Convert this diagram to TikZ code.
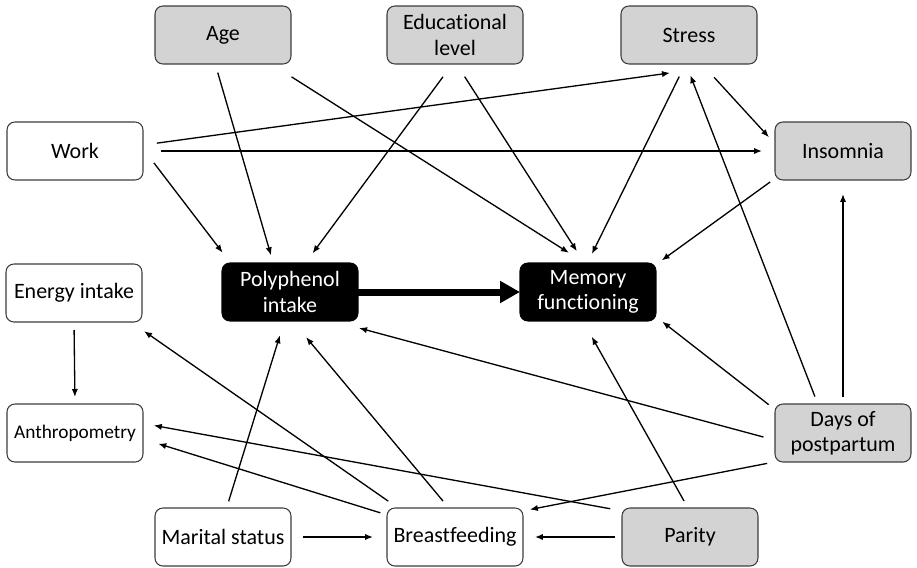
\documentclass[tikz,border=0pt]{standalone}
\usepackage{fontspec}
\setmainfont[Ligatures={NoCommon}]{Carlito}
\usetikzlibrary{arrows.meta}

\definecolor{boxgray}{RGB}{211,211,211}
\definecolor{boxline}{RGB}{60,60,60}

\tikzset{
    var/.style={draw=boxline, line width=0.6pt, rounded corners=4.5pt, fill=white,
        minimum width=2.72cm, minimum height=1.16cm, outer sep=0pt, inner sep=1pt,
        align=center, font=\fontsize{12.5}{14.5}\selectfont},
    covar/.style={var, fill=boxgray},
    mainvar/.style={var, draw=black, fill=black, text=white},
    arr/.style={line width=0.75pt, -{Latex[length=1.6mm, width=1.25mm]}},
    gaps/.style 2 args={shorten <=#1*0.02cm, shorten >=#2*0.02cm},
}

\begin{document}
\begin{tikzpicture}[x=0.02cm, y=-0.02cm]
        \useasboundingbox (0,0) rectangle (917,568);

        \node[covar] (age) at (223,35) {Age};
        \node[covar] (edu) at (455,35) {Educational\\level};
        \node[covar] (stress) at (689,35) {Stress};
        \node[var] (work) at (75,151) {Work};
        \node[covar] (insom) at (843,151) {Insomnia};
        \node[var] (energy) at (74,293) {Energy intake};
        \node[mainvar] (poly) at (290,292) {Polyphenol\\intake};
        \node[mainvar] (memory) at (588,292) {Memory\\functioning};
        \node[var, font=\fontsize{11}{13}\selectfont] (anthro) at (75,433) {Anthropometry};
        \node[covar] (days) at (843,433) {Days of\\postpartum};
        \node[var] (marital) at (223,537) {Marital status};
        \node[var] (breast) at (455,537) {Breastfeeding};
        \node[covar] (parity) at (690,537) {Parity};

        % main effect
        \draw[line width=0.14cm, -{Triangle[length=4mm, width=4.2mm]}] (poly.east) -- (memory.west);

        \draw[arr, gaps={9}{8}] (age.-105) -- (poly.120);
        \draw[arr, gaps={24}{19}] (age.-31) -- (memory.96);
        \draw[arr, gaps={16}{12}] (edu.-95) -- (poly.62);
        \draw[arr, gaps={15}{14}] (edu.-87) -- (memory.97);
        \draw[arr, gaps={14}{66}] (work.5) -- (stress.-32);
        \draw[arr, gaps={18}{13}] (work.east) -- (insom.west);
        \draw[arr, gaps={18}{13}] (work.2) -- (poly.154);
        \draw[arr, gaps={14}{10}] (stress.-97) -- (memory.91);
        \draw[arr, gaps={18}{9}] (stress.-66) -- (insom.174);
        \draw[arr, gaps={6}{7}] (insom.-158) -- (memory.22);
        \draw[arr, gaps={8}{12}] (days.131) -- (stress.-96);
        \draw[arr, gaps={7}{14}] (days.north) -- (insom.south);
        \draw[arr, gaps={8}{8}] (days.161) -- (memory.-20);
        \draw[arr, gaps={12}{27}] (days.186) -- (poly.-34);
        \draw[arr, gaps={8}{7}] (days.-157) -- (breast.21);
        \draw[arr, gaps={8}{18}] (parity.94) -- (memory.-100);
        \draw[arr, gaps={12}{11}] (parity.159) -- (anthro.8);
        \draw[arr, gaps={7}{12}] (parity.west) -- (breast.east);
        \draw[arr, gaps={12}{16}] (breast.153) -- (energy.-27);
        \draw[arr, gaps={7}{16}] (breast.162) -- (anthro.-5);
        \draw[arr, gaps={9}{21}] (breast.102) -- (poly.-85);
        \draw[arr, gaps={7}{15}] (marital.83) -- (poly.-101);
        \draw[arr, gaps={12}{14}] (marital.east) -- (breast.west);
        \draw[arr, gaps={8}{7}] (energy.south) -- (anthro.north);
    \end{tikzpicture}
\end{document}
